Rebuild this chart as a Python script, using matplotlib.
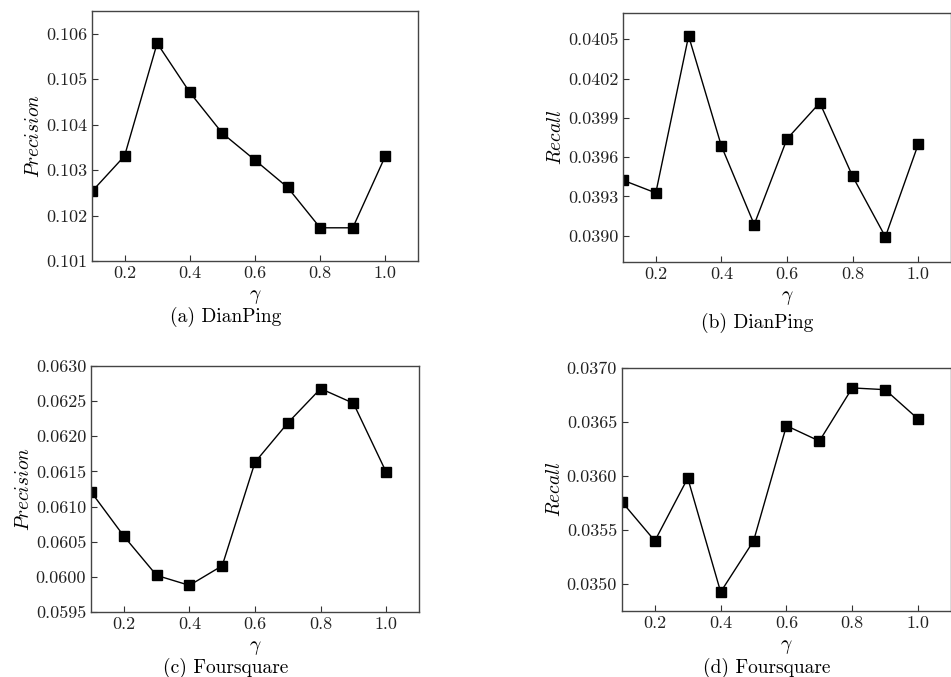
import matplotlib
matplotlib.use("Agg")
import matplotlib.pyplot as plt
from matplotlib.ticker import FormatStrFormatter, MultipleLocator

plt.rcParams['font.family'] = 'serif'
plt.rcParams['font.serif'] = ['cmr10']
plt.rcParams['mathtext.fontset'] = 'cm'
plt.rcParams['axes.formatter.use_mathtext'] = True

gamma = [0.1, 0.2, 0.3, 0.4, 0.5, 0.6, 0.7, 0.8, 0.9, 1.0]

dianping_precision = [0.10253, 0.10331, 0.10579, 0.10471, 0.10381,
                      0.10322, 0.10262, 0.10173, 0.10173, 0.10331]
dianping_recall = [0.039424, 0.039327, 0.040525, 0.039685, 0.039086,
                   0.039739, 0.040015, 0.039454, 0.038992, 0.039698]
foursquare_precision = [0.061210, 0.060580, 0.060021, 0.059879, 0.060158,
                        0.061631, 0.062190, 0.062678, 0.062470, 0.061489]
foursquare_recall = [0.035760, 0.035399, 0.035980, 0.034926, 0.035399,
                     0.036465, 0.036323, 0.036815, 0.036799, 0.036527]

fig = plt.figure(figsize=(9.51, 6.77), dpi=100)

panels = [
    # rect, data, ylabel, ylim, ystep, fmt, caption, caption pos
    ([0.0967, 0.6145, 0.3428, 0.3693], dianping_precision, '$Precision$',
     (0.101, 0.1065), 0.001, '%.3f', '(a) DianPing', (0.237, 0.532)),
    ([0.6551, 0.6130, 0.3449, 0.3678], dianping_recall, '$Recall$',
     (0.0388, 0.0407), 0.0003, '%.4f', '(b) DianPing', (0.796, 0.523)),
    ([0.0957, 0.0960, 0.3449, 0.3634], foursquare_precision, '$Precision$',
     (0.0595, 0.0630), 0.0005, '%.4f', '(c) Foursquare', (0.237, 0.0135)),
    ([0.6540, 0.0975, 0.3460, 0.3590], foursquare_recall, '$Recall$',
     (0.03475, 0.0370), 0.0005, '%.4f', '(d) Foursquare', (0.806, 0.0135)),
]

for rect, vals, ylab, ylim, ystep, fmt, cap, cpos in panels:
    ax = fig.add_axes(rect)
    ax.plot(gamma, vals, color='black', linewidth=1.0, marker='s',
            markersize=6.5, markerfacecolor='black', markeredgecolor='black')
    ax.set_xlim(0.1, 1.1)
    ax.set_ylim(*ylim)
    ax.set_xticks([0.2, 0.4, 0.6, 0.8, 1.0])
    ax.yaxis.set_major_locator(MultipleLocator(ystep))
    ax.yaxis.set_major_formatter(FormatStrFormatter(fmt))
    ax.xaxis.set_major_formatter(FormatStrFormatter('%.1f'))
    ax.tick_params(direction='in', length=4, width=0.8, labelsize=13,
                   colors='#333333', labelcolor='#222222')
    for sp in ax.spines.values():
        sp.set_color('#444444')
        sp.set_linewidth(1.0)
    ax.set_xlabel(r'$\gamma$', fontsize=14, labelpad=5)
    ax.set_ylabel(ylab, fontsize=14, labelpad=2)
    fig.text(cpos[0], cpos[1], cap, ha='center', va='center', fontsize=14)

fig.savefig('out.png', dpi=100)
